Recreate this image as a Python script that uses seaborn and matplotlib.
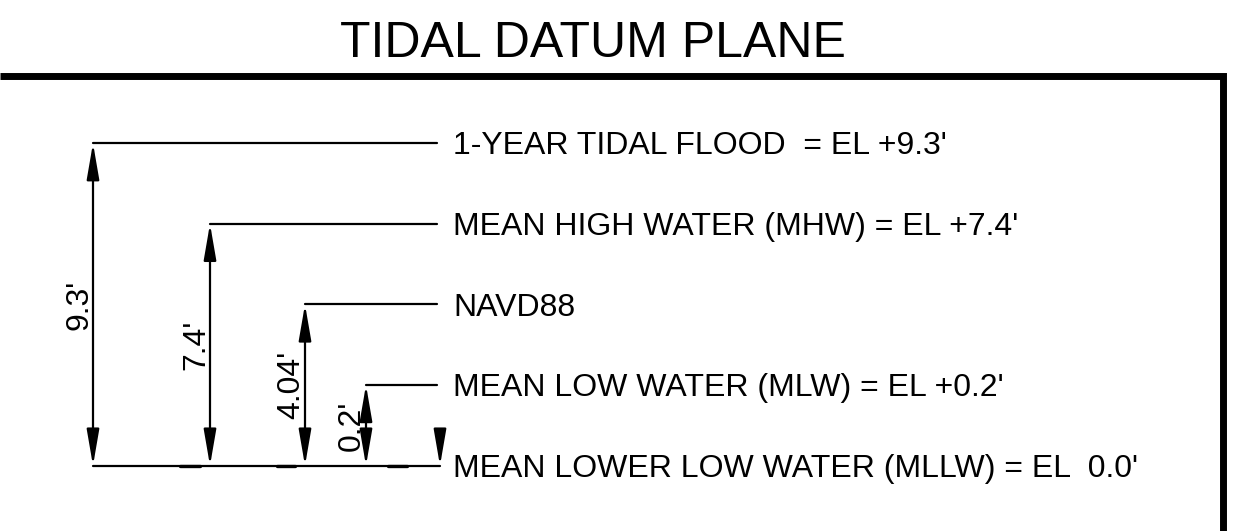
"""
Tidal datum plane diagram (schematic, not to scale).

Levels are stacked by rank; dimension arrows run from MLLW up to each level.
"""
import matplotlib
matplotlib.use("Agg")

import pandas as pd
import matplotlib.pyplot as plt
import seaborn as sns

# ---- Data (top to bottom) ----
title = "TIDAL DATUM PLANE"
level_names = ["1-YEAR TIDAL FLOOD", "MEAN HIGH WATER (MHW)", "NAVD88",
               "MEAN LOW WATER (MLW)", "MEAN LOWER LOW WATER (MLLW)"]
level_labels = ["1-YEAR TIDAL FLOOD  = EL +9.3'",
                "MEAN HIGH WATER (MHW) = EL +7.4'",
                "NAVD88",
                "MEAN LOW WATER (MLW) = EL +0.2'",
                "MEAN LOWER LOW WATER (MLLW) = EL  0.0'"]
level_rank = [4, 3, 2, 1, 0]          # schematic stacking order
dim_labels = ["9.3'", "7.4'", "4.04'", "0.2'"]

# ---- Layout (x in canvas pixels) ----
DIM_X = [93, 210, 305, 366]
LEADER_END = 437
MLLW_TICK_X = 440
TEXT_X = 453
BASE_MARKS = [(180, 200), (277, 295), (388, 407)]
BORDER_TOP = 1 - 75.5 / 531
BORDER_RIGHT = 1223 / 1244

sns.set_theme(style="white")
plt.rcParams["font.family"] = ["Liberation Sans", "DejaVu Sans"]

fig = plt.figure(figsize=(12.44, 5.31), dpi=100)
ax = fig.add_axes([0, 0, 1, 1])
ax.set_xlim(0, 1244)
ax.set_ylim(-0.811, 5.777)

# ---- Leader lines from each dimension line out to its label ----
rows = []
for i, name in enumerate(level_names[:-1]):
    rows.append({"level": name, "x": DIM_X[i], "y": level_rank[i]})
    rows.append({"level": name, "x": LEADER_END, "y": level_rank[i]})
rows.append({"level": level_names[-1], "x": DIM_X[0], "y": level_rank[-1]})
rows.append({"level": level_names[-1], "x": MLLW_TICK_X, "y": level_rank[-1]})
leaders = pd.DataFrame(rows)
sns.lineplot(data=leaders, x="x", y="y", units="level", estimator=None,
             color="black", linewidth=1.6, legend=False, ax=ax)

# slightly heavier dashes on the MLLW line
for x0, x1 in BASE_MARKS:
    ax.plot([x0, x1], [level_rank[-1]] * 2, color="black", lw=2.4)

# ---- Dimension arrows ----
head = "head_length=2.2,head_width=0.38"
for i, lab in enumerate(dim_labels):
    top = level_rank[i]
    ax.annotate("", xy=(DIM_X[i], top), xytext=(DIM_X[i], level_rank[-1]),
                arrowprops=dict(arrowstyle="<|-|>," + head, mutation_scale=10,
                                lw=1.6, color="black", shrinkA=0, shrinkB=0))
    ax.annotate(lab, xy=(DIM_X[i], (top + level_rank[-1]) / 2),
                xytext=(-4.3, 0), textcoords="offset points",
                rotation=90, rotation_mode="anchor",
                ha="center", va="baseline", fontsize=23, color="black")

# MLLW pointer
ax.annotate("", xy=(MLLW_TICK_X, level_rank[-1]),
            xytext=(MLLW_TICK_X, level_rank[-1] + 0.37),
            arrowprops=dict(arrowstyle="-|>," + head, mutation_scale=10,
                            lw=1.6, color="black", shrinkA=0, shrinkB=0))

# ---- Level labels ----
for lab, r in zip(level_labels, level_rank):
    ax.annotate(lab, xy=(TEXT_X, r), xytext=(0, -8), textcoords="offset points",
                ha="left", va="baseline", fontsize=23, color="black")

# ---- Border and title ----
ax.plot([0, BORDER_RIGHT, BORDER_RIGHT], [BORDER_TOP, BORDER_TOP, 0],
        transform=ax.transAxes, color="black", lw=5,
        solid_joinstyle="miter", solid_capstyle="butt", clip_on=False)
fig.text(593 / 1244, 1 - 57 / 531, title, ha="center", va="baseline",
         fontsize=36, color="black")

ax.set_axis_off()
fig.savefig("out.png", dpi=100)
plt.close(fig)
